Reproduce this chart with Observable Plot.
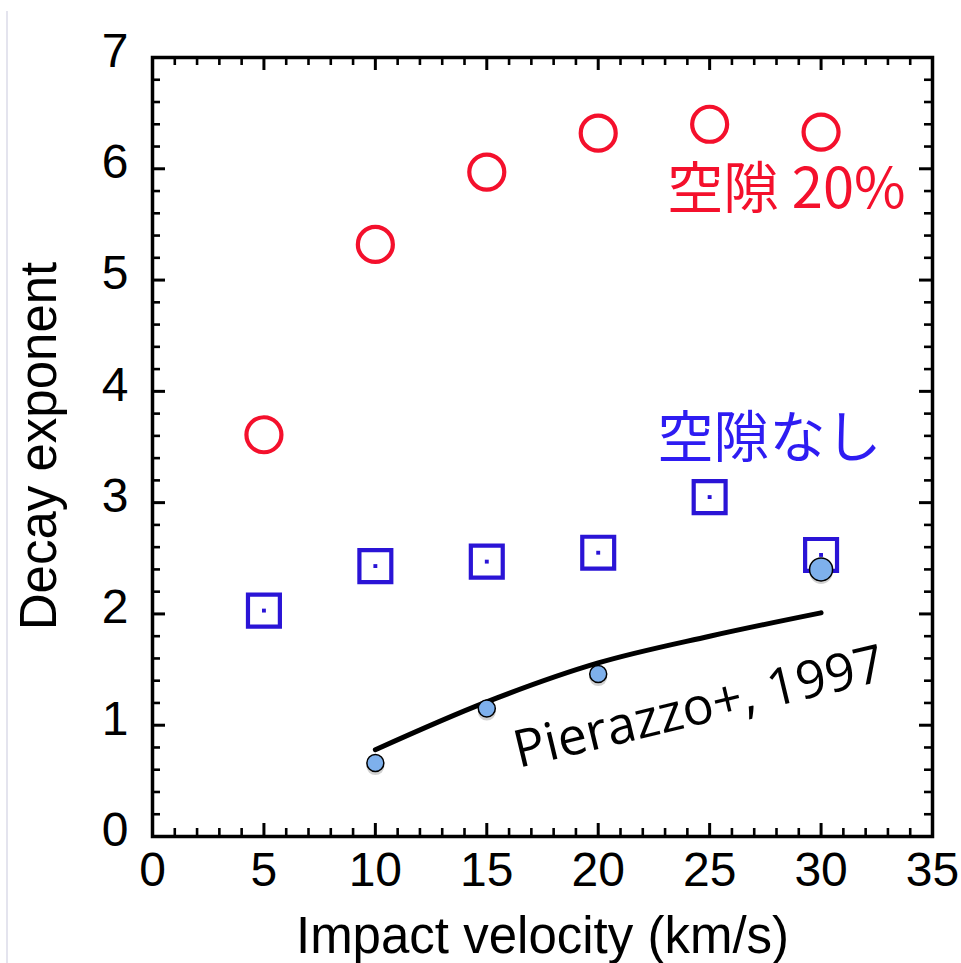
<!DOCTYPE html>
<html>
<head>
<meta charset="utf-8">
<script src="https://cdn.jsdelivr.net/npm/d3@7"></script>
<script src="https://cdn.jsdelivr.net/npm/@observablehq/plot@0.6"></script>
<style>
  html, body { margin: 0; padding: 0; background: #fff; }
  #wrap { position: relative; width: 961px; height: 963px; overflow: hidden; }
  #edge { position: absolute; left: 6px; top: 11px; width: 2px; bottom: 0; background: #e4e4ee; z-index: 2; }
</style>
</head>
<body>
<div id="wrap"><div id="edge"></div><div id="chart"></div></div>
<script>
// ---- data ----
const velocity = [5, 10, 15, 20, 25, 30];
const porous20 = [3.61, 5.32, 5.97, 6.32, 6.40, 6.33];   // red circles (空隙 20%)
const nonPorous = [2.03, 2.43, 2.47, 2.55, 3.05, 2.53];  // blue squares (空隙なし)
const pierazzoPtsV = [10, 15, 20];
const pierazzoPtsE = [0.66, 1.15, 1.46];
const pierazzoBigV = [30];
const pierazzoBigE = [2.40];
const pierazzoLineV = [10, 15, 20, 25, 30];
const pierazzoLineE = [0.78, 1.21, 1.56, 1.80, 2.01];
const xTicks = [0, 5, 10, 15, 20, 25, 30, 35];
const yTicks = [0, 1, 2, 3, 4, 5, 6, 7];
const xMinor = d3.range(1, 35).filter(d => d % 5 !== 0);
const yMinor = d3.range(1, 35).filter(d => d % 5 !== 0).map(d => d / 5);
const xLabel = "Impact velocity (km/s)";
const yLabel = "Decay exponent";
const noteRed = [{text: "空隙 20%", x: 23.1, y: 5.81}];
const noteBlue = [{text: "空隙なし", x: 22.66, y: 3.57}];
const noteRef = [{text: "Pierazzo+, 1997", x: 16.25, y: 0.76}];

// ---- layout ----
const W = 961, H = 963, ML = 152, MR = 29, MT = 57, MB = 127;
const IW = W - ML - MR, IH = H - MT - MB;
const red = "#f4102c", blue = "#2a14d6", blueText = "#2e1cf2";
const cjk = "'Noto Sans CJK JP', sans-serif";

const zip = (xs, ys) => xs.map((x, i) => ({x, y: ys[i]}));
const majX = xTicks.slice(1, -1), majY = yTicks.slice(1, -1);

const chart = Plot.plot({
  width: W, height: H,
  marginLeft: ML, marginRight: MR, marginTop: MT, marginBottom: MB,
  x: {domain: [0, 35], axis: null},
  y: {domain: [0, 7], axis: null},
  style: {background: "white", fontFamily: "'Liberation Sans', Arial, sans-serif"},
  marks: [
    // inward ticks, four sides
    Plot.ruleX(majX, {x: d => d, insetTop: IH - 13, strokeWidth: 3}),
    Plot.ruleX(majX, {x: d => d, insetBottom: IH - 13, strokeWidth: 3}),
    Plot.ruleX(xMinor, {x: d => d, insetTop: IH - 8, strokeWidth: 2.6}),
    Plot.ruleX(xMinor, {x: d => d, insetBottom: IH - 8, strokeWidth: 2.6}),
    Plot.ruleY(majY, {y: d => d, insetRight: IW - 13, strokeWidth: 3}),
    Plot.ruleY(majY, {y: d => d, insetLeft: IW - 13, strokeWidth: 3}),
    Plot.ruleY(yMinor, {y: d => d, insetRight: IW - 8, strokeWidth: 2.6}),
    Plot.ruleY(yMinor, {y: d => d, insetLeft: IW - 8, strokeWidth: 2.6}),
    Plot.frame({stroke: "black", strokeWidth: 3.5}),
    // tick labels
    Plot.axisX(xTicks, {tickSize: 0, tickPadding: 15, fontSize: 48, label: null, tickFormat: d => String(d)}),
    Plot.axisY(yTicks, {tickSize: 0, tickPadding: 24, fontSize: 48, dy: -6, label: null, tickFormat: d => String(d)}),
    // axis titles
    Plot.text([xLabel], {frameAnchor: "bottom", text: d => d, dy: 100, fontSize: 51, textAnchor: "middle", lineAnchor: "middle"}),
    Plot.text([yLabel], {frameAnchor: "left", text: d => d, dx: -113, dy: -1, rotate: -90, fontSize: 51, textAnchor: "middle", lineAnchor: "middle"}),
    // Pierazzo curve
    Plot.line(zip(pierazzoLineV, pierazzoLineE), {x: "x", y: "y", stroke: "black", strokeWidth: 5, curve: "monotone-x"}),
    // shadows
    Plot.dot(zip(pierazzoPtsV, pierazzoPtsE), {x: "x", y: "y", r: 9, dy: 3, fill: "#000", fillOpacity: 0.18, stroke: "none"}),
    Plot.dot(zip(pierazzoBigV, pierazzoBigE), {x: "x", y: "y", r: 11.5, dy: 3, fill: "#000", fillOpacity: 0.18, stroke: "none"}),
    // red circles
    Plot.dot(zip(velocity, porous20), {x: "x", y: "y", r: 17.5, stroke: red, strokeWidth: 4.2, fill: "none"}),
    // blue squares with center dot
    Plot.dot(zip(velocity, nonPorous), {x: "x", y: "y", symbol: "square", r: 18, stroke: blue, strokeWidth: 4.2, fill: "none"}),
    Plot.dot(zip(velocity, nonPorous), {x: "x", y: "y", symbol: "square", r: 2.2, fill: blue, stroke: "none"}),
    // Pierazzo points
    Plot.dot(zip(pierazzoPtsV, pierazzoPtsE), {x: "x", y: "y", r: 8.5, fill: "#7eb0ec", stroke: "black", strokeWidth: 1.5}),
    Plot.dot(zip(pierazzoBigV, pierazzoBigE), {x: "x", y: "y", r: 11.5, fill: "#7eb0ec", stroke: "black", strokeWidth: 1.5}),
    // annotations
    Plot.text(noteRed, {x: "x", y: "y", text: "text", fill: red, fontFamily: cjk, fontSize: 56, textAnchor: "start", lineAnchor: "middle"}),
    Plot.text(noteBlue, {x: "x", y: "y", text: "text", fill: blueText, fontFamily: cjk, fontSize: 56, textAnchor: "start", lineAnchor: "middle"}),
    Plot.text(noteRef, {x: "x", y: "y", text: "text", fill: "black", rotate: -13.5, fontFamily: "'Open Sans', sans-serif", fontSize: 52, textAnchor: "start", lineAnchor: "middle"})
  ]
});
document.getElementById("chart").appendChild(chart);
</script>
</body>
</html>
